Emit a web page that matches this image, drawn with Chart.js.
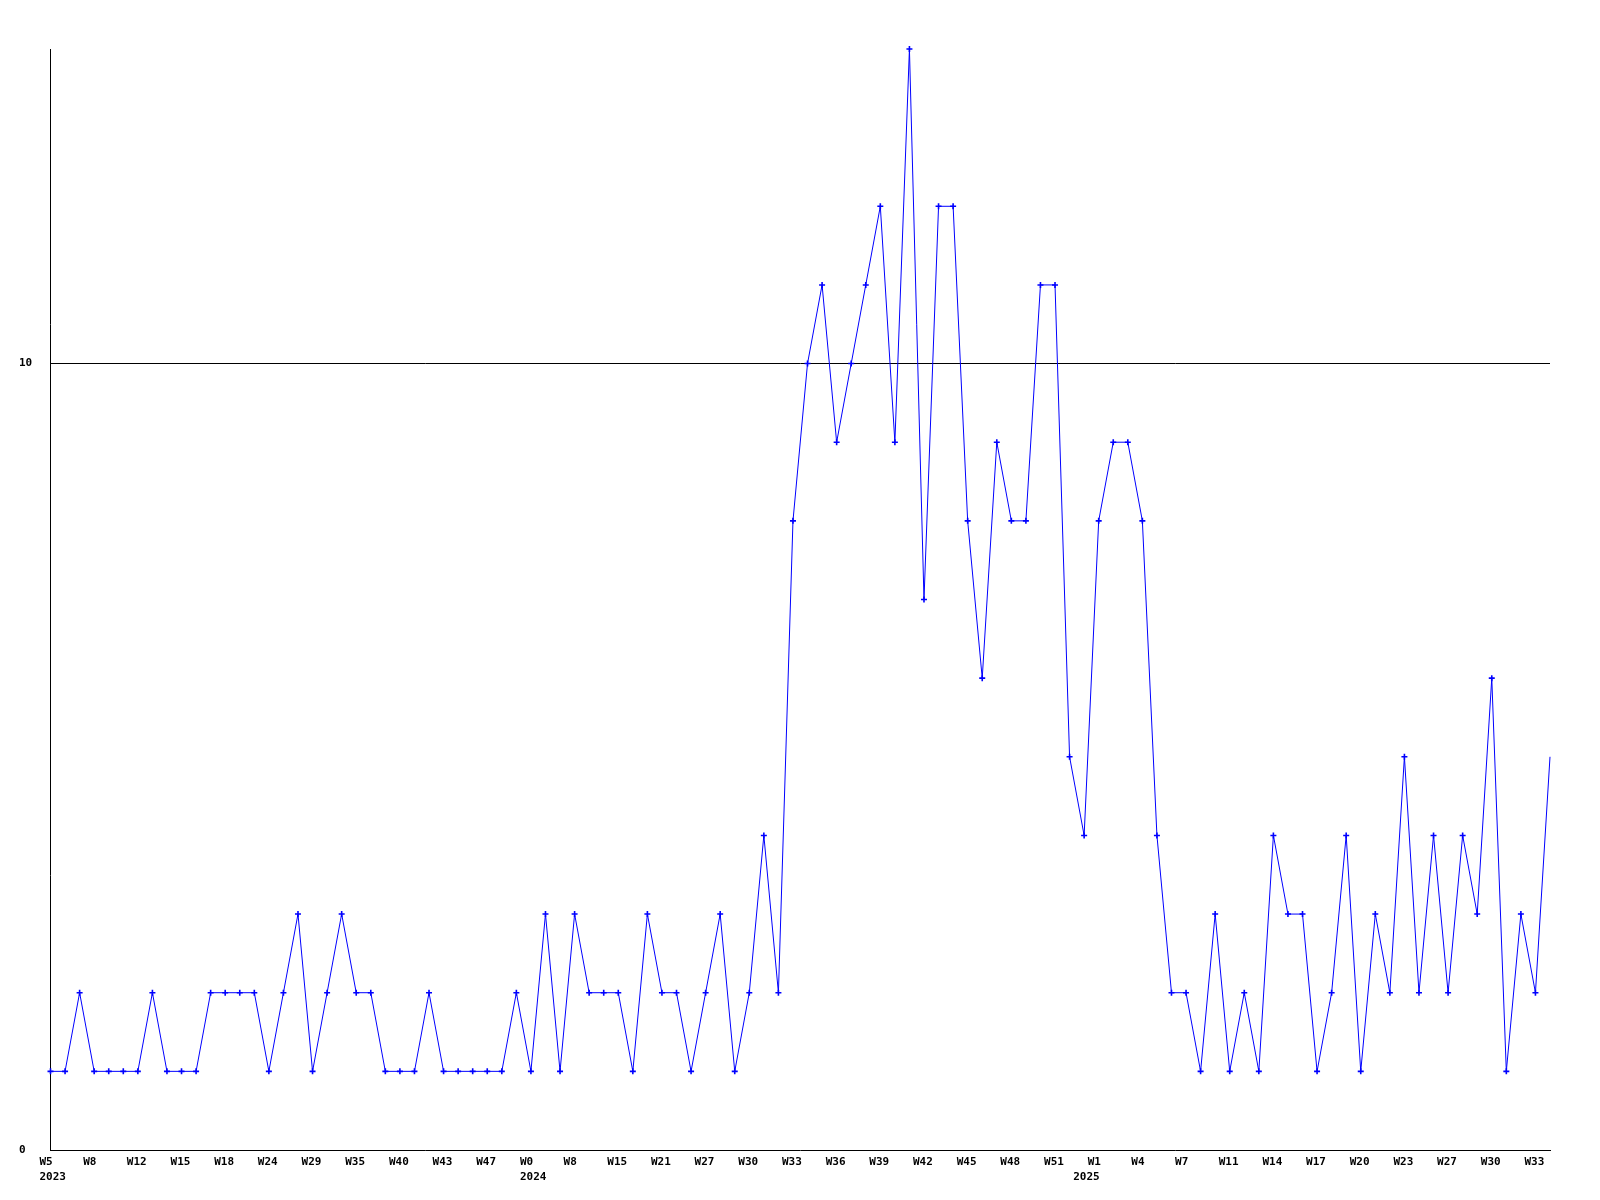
<!DOCTYPE html>
<html>
<head>
<meta charset="utf-8">
<script src="https://cdn.jsdelivr.net/npm/chart.js@4/dist/chart.umd.min.js"></script>
<style>
  html, body { margin: 0; padding: 0; background: #fff; }
  #wrap { width: 1600px; height: 1200px; }
</style>
</head>
<body>
<div id="wrap"><canvas id="c" width="1600" height="1200"></canvas></div>
<script>
// Weekly values, one per point (104 points)
const values = [
  1, 1, 2, 1, 1, 1, 1, 2, 1, 1,
  1, 2, 2, 2, 2, 1, 2, 3, 1, 2,
  3, 2, 2, 1, 1, 1, 2, 1, 1, 1,
  1, 1, 2, 1, 3, 1, 3, 2, 2, 2,
  1, 3, 2, 2, 1, 2, 3, 1, 2, 4,
  2, 8, 10, 11, 9, 10, 11, 12, 9, 14,
  7, 12, 12, 8, 6, 9, 8, 8, 11, 11,
  5, 4, 8, 9, 9, 8, 4, 2, 2, 1,
  3, 1, 2, 1, 4, 3, 3, 1, 2, 4,
  1, 3, 2, 5, 2, 4, 2, 4, 3, 6,
  1, 3, 2, 5
];
// Week tick labels, shown every 3rd point
const weekLabels = [
  'W5', 'W8', 'W12', 'W15', 'W18', 'W24', 'W29', 'W35', 'W40', 'W43', 'W47',
  'W0', 'W8', 'W15', 'W21', 'W27', 'W30', 'W33', 'W36', 'W39', 'W42', 'W45', 'W48', 'W51',
  'W1', 'W4', 'W7', 'W11', 'W14', 'W17', 'W20', 'W23', 'W27', 'W30', 'W33'
];
// Year labels and the point index where each one sits
const yearLabels = ['2023', '2024', '2025'];
const yearIndex = [0, 33, 71];
const yTickValues = [0, 10];
const yMax = 14;
const labelEvery = 3;

const points = values.map((v, i) => ({ x: i, y: v }));
const radii = values.map((_, i) => (i === values.length - 1 ? 0 : 3));
const tickFont = { family: '"DejaVu Sans Mono", monospace', size: 11, weight: 'bold', lineHeight: 1.45 };

new Chart(document.getElementById('c'), {
  type: 'line',
  data: {
    datasets: [{
      data: points,
      borderColor: '#0000ff',
      backgroundColor: '#0000ff',
      borderWidth: 1,
      tension: 0,
      pointStyle: 'cross',
      pointRadius: radii,
      pointBorderWidth: 1.6,
      pointBorderColor: '#0000ff',
      pointHoverRadius: 3,
      fill: false,
      clip: false
    }]
  },
  options: {
    responsive: false,
    animation: false,
    events: [],
    layout: { padding: { top: 49, right: 50, left: 19, bottom: 0 } },
    plugins: { legend: { display: false }, tooltip: { enabled: false }, title: { display: false } },
    scales: {
      x: {
        type: 'linear',
        position: 'bottom',
        min: 0,
        max: values.length - 1,
        grid: { display: false, drawTicks: false },
        border: { display: true, color: '#000', width: 1 },
        afterBuildTicks: (scale) => {
          scale.ticks = weekLabels.map((_, k) => ({ value: k * labelEvery }));
        },
        afterFit: (scale) => {
          scale.height = 16;
          scale.paddingLeft = 0;
          scale.paddingRight = 0;
        },
        ticks: {
          autoSkip: false,
          maxRotation: 0,
          minRotation: 0,
          align: 'start',
          labelOffset: -11,
          padding: 4,
          color: '#000',
          font: tickFont,
          callback: (value, index) => weekLabels[index]
        }
      },
      x2: {
        type: 'linear',
        position: 'bottom',
        min: 0,
        max: values.length - 1,
        grid: { display: false, drawTicks: false },
        border: { display: false },
        afterBuildTicks: (scale) => {
          scale.ticks = yearIndex.map(v => ({ value: v }));
        },
        afterFit: (scale) => {
          scale.height = 34;
          scale.paddingLeft = 0;
          scale.paddingRight = 0;
        },
        ticks: {
          autoSkip: false,
          maxRotation: 0,
          minRotation: 0,
          align: 'start',
          labelOffset: -11,
          padding: 3,
          color: '#000',
          font: tickFont,
          callback: (value, index) => yearLabels[index]
        }
      },
      y: {
        type: 'linear',
        min: 0,
        max: yMax,
        grid: {
          drawTicks: false,
          color: (ctx) => (ctx.tick && ctx.tick.value === 10 ? '#000' : 'rgba(0,0,0,0)'),
          lineWidth: 1
        },
        border: { display: true, color: '#000', width: 1 },
        afterBuildTicks: (scale) => {
          scale.ticks = yTickValues.map(v => ({ value: v }));
        },
        afterFit: (scale) => {
          scale.width = 31.5;
          scale.paddingTop = 0;
          scale.paddingBottom = 0;
        },
        ticks: {
          crossAlign: 'far',
          padding: 0,
          color: '#000',
          font: tickFont
        }
      }
    }
  }
});
</script>
</body>
</html>
